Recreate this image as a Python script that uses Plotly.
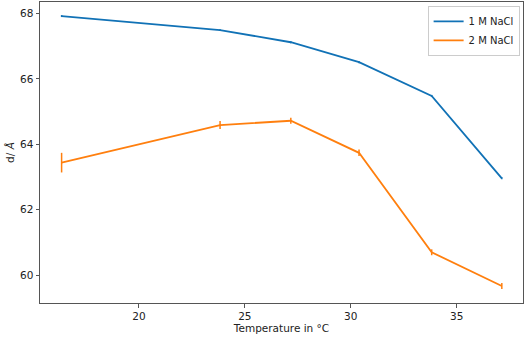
import plotly.graph_objects as go

temps = [16.35, 23.83, 27.17, 30.39, 33.82, 37.13]
d_1M = [67.92, 67.49, 67.12, 66.51, 65.48, 62.96]
err_1M = [0.03, 0.03, 0.03, 0.03, 0.03, 0.03]
d_2M = [63.44, 64.59, 64.72, 63.74, 60.70, 59.67]
err_2M = [0.30, 0.12, 0.09, 0.10, 0.09, 0.09]

blue = "#1172b6"
orange = "#ff7f0e"

fig = go.Figure()
fig.add_trace(go.Scatter(
    x=temps, y=d_1M, mode="lines", name="1 M NaCl",
    line=dict(color=blue, width=1.8),
    error_y=dict(type="data", array=err_1M, color=blue, thickness=1.5, width=0),
))
fig.add_trace(go.Scatter(
    x=temps, y=d_2M, mode="lines", name="2 M NaCl",
    line=dict(color=orange, width=1.8),
    error_y=dict(type="data", array=err_2M, color=orange, thickness=1.5, width=0),
))

axis_common = dict(
    showline=True, linecolor="#555555", linewidth=1, mirror=True,
    ticks="outside", ticklen=3.5, tickcolor="#555555", tickwidth=1,
    showgrid=False, zeroline=False, automargin=False,
    tickfont=dict(family="DejaVu Sans", size=10.5, color="#222222"),
)

fig.update_layout(
    width=526, height=338,
    margin=dict(l=40, r=3, t=2, b=35),
    paper_bgcolor="white", plot_bgcolor="white",
    font=dict(family="DejaVu Sans", size=10.5, color="#222222"),
    xaxis=dict(range=[15.33, 38.13], tickvals=[20, 25, 30, 35],
               title=dict(text="Temperature in °C", standoff=2,
                          font=dict(family="DejaVu Sans", size=10.5)),
               **axis_common),
    yaxis=dict(range=[59.15, 68.35], tickvals=[60, 62, 64, 66, 68],
               title=dict(text="d/ <i>Å</i>", standoff=3,
                          font=dict(family="DejaVu Sans", size=10.5)),
               **axis_common),
    legend=dict(x=0.993, y=0.987, xanchor="right", yanchor="top",
                bordercolor="#cccccc", borderwidth=1, bgcolor="rgba(255,255,255,0.8)",
                font=dict(family="DejaVu Sans", size=10),
                tracegroupgap=0, itemwidth=30),
    showlegend=True,
)

fig.write_html("out.html", config={"displayModeBar": False},
               post_script="document.body.style.margin='0';document.body.style.overflow='hidden';")
